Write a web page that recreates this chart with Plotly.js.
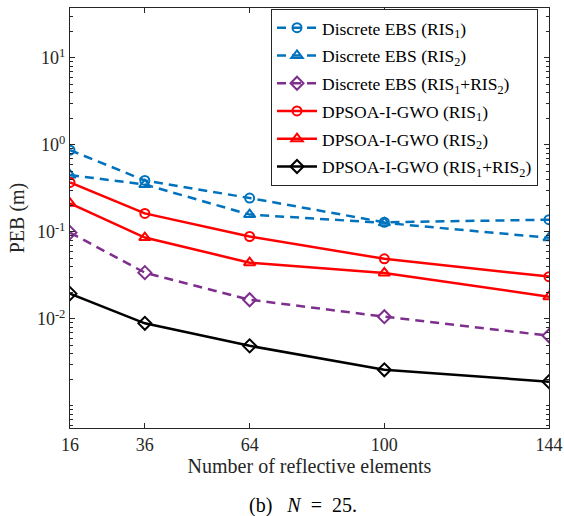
<!DOCTYPE html>
<html>
<head>
<meta charset="utf-8">
<script src="https://cdn.plot.ly/plotly-3.0.1.min.js"></script>
<style>html,body{margin:0;padding:0;background:#fff;}#chart{width:564px;height:516px;}</style>
</head>
<body>
<div id="chart"></div>
<script>
const elements = [16, 36, 64, 100, 144];
const ebsRis1 = [0.87, 0.39, 0.245, 0.129, 0.138];
const ebsRis2 = [0.45, 0.35, 0.158, 0.127, 0.0855];
const ebsBoth = [0.098, 0.034, 0.0166, 0.0106, 0.0064];
const gwoRis1 = [0.37, 0.163, 0.0885, 0.049, 0.0306];
const gwoRis2 = [0.213, 0.086, 0.0443, 0.0337, 0.018];
const gwoBoth = [0.0195, 0.0089, 0.0049, 0.0026, 0.0019];
const names = [
  'Discrete EBS (RIS<sub>1</sub>)',
  'Discrete EBS (RIS<sub>2</sub>)',
  'Discrete EBS (RIS<sub>1</sub>+RIS<sub>2</sub>)',
  'DPSOA-I-GWO (RIS<sub>1</sub>)',
  'DPSOA-I-GWO (RIS<sub>2</sub>)',
  'DPSOA-I-GWO (RIS<sub>1</sub>+RIS<sub>2</sub>)'
];
const yTickVals = [0.01, 0.1, 1, 10];
const yTickText = ['10<sup>-2</sup>', '10<sup>-1</sup>', '10<sup>0</sup>', '10<sup>1</sup>'];

const minorVals = [];
for (let e = -4; e <= 1; e++) {
  for (let m = 2; m <= 9; m++) minorVals.push(m * Math.pow(10, e));
}
minorVals.push(0.001);

const blue = '#0072BD', purple = '#7E2F8E', red = '#FF0000', black = '#000000';
const dash = '9px,6px';
let gi = 0;
function tr(y, name, color, symbol, size, isDash) {
  gi += 1;
  return {
    x: elements, y: y, name: name, type: 'scatter', mode: 'lines+markers',
    legendgroup: 'g' + gi,
    line: {color: color, width: 2.5, dash: isDash ? dash : 'solid'},
    marker: {symbol: symbol, size: size, color: color, line: {color: color, width: 2}}
  };
}
const data = [
  tr(ebsRis1, names[0], blue, 'circle-open', 9, true),
  tr(ebsRis2, names[1], blue, 'triangle-up-open', 10, true),
  tr(ebsBoth, names[2], purple, 'diamond-open', 10, true),
  tr(gwoRis1, names[3], red, 'circle-open', 9, false),
  tr(gwoRis2, names[4], red, 'triangle-up-open', 10, false),
  tr(gwoBoth, names[5], black, 'diamond-open', 10, false)
];
const axisColor = '#262626';
const font = 'Liberation Serif';
const layout = {
  width: 564, height: 516,
  margin: {l: 70, r: 15, t: 8, b: 88},
  paper_bgcolor: '#fff', plot_bgcolor: '#fff',
  font: {family: font, size: 18, color: '#262626'},
  showlegend: true,
  legend: {
    x: 0.4196, y: 0.998, xanchor: 'left', yanchor: 'top',
    bgcolor: '#fff', bordercolor: '#262626', borderwidth: 1,
    font: {family: font, size: 17.5, color: '#000'},
    itemwidth: 40, tracegroupgap: 2
  },
  xaxis: {
    range: [16, 144], tickvals: elements, ticktext: elements.map(String),
    ticks: 'inside', ticklen: 5, tickcolor: axisColor, tickwidth: 1,
    showline: true, linecolor: axisColor, linewidth: 1, mirror: 'ticks',
    showgrid: false, zeroline: false,
    tickfont: {family: font, size: 18, color: '#262626'},
    title: {text: 'Number of reflective elements', font: {family: font, size: 20, color: '#262626'}, standoff: 4}
  },
  yaxis: {
    type: 'log', range: [-3.254, 1.573],
    tickvals: yTickVals, ticktext: yTickText,
    ticks: 'inside', ticklen: 5, tickcolor: axisColor, tickwidth: 1,
    minor: {tickvals: minorVals, ticks: 'inside', ticklen: 3, tickcolor: axisColor, tickwidth: 1, showgrid: false},
    showline: true, linecolor: axisColor, linewidth: 1, mirror: 'ticks',
    showgrid: false, zeroline: false,
    tickfont: {family: font, size: 18, color: '#262626'},
    title: {text: 'PEB (m)', font: {family: font, size: 20, color: '#262626'}, standoff: 6}
  },
  annotations: [{
    xref: 'paper', yref: 'paper', x: 0.486, y: -0.185, xanchor: 'center', yanchor: 'middle',
    text: '(b)\u00a0\u00a0\u00a0<i>N</i>\u00a0\u00a0=\u00a0\u00a025.', showarrow: false,
    font: {family: font, size: 20, color: '#000'}
  }]
};
Plotly.newPlot('chart', data, layout, {displayModeBar: false, staticPlot: true});
</script>
</body>
</html>
